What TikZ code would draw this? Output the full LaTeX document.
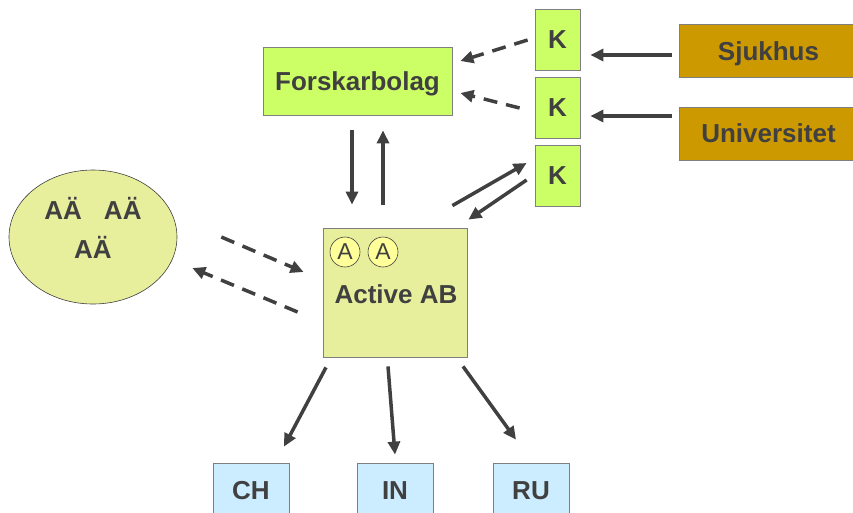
\documentclass[tikz,border=0pt]{standalone}
\usepackage{fontspec}
\setmainfont{Liberation Sans}
\usetikzlibrary{positioning, arrows.meta, calc, shapes.geometric}
\definecolor{limegreen}{HTML}{CCFF66}
\definecolor{gold}{HTML}{CC9900}
\definecolor{paleolive}{HTML}{E8EF9C}
\definecolor{paleyellow}{HTML}{FFFF99}
\definecolor{paleblue}{HTML}{CCECFF}
\definecolor{darktext}{HTML}{404040}
\definecolor{edgegray}{HTML}{7F7F7F}

\begin{document}
\begin{tikzpicture}[x=1pt, y=1pt, on grid, >={Triangle[length=13pt,width=12pt]},
    font=\fontsize{26}{30}\selectfont\bfseries, text=darktext,
    box/.style={draw=edgegray, line width=0.8pt, inner sep=0pt},
    caps/.style={text height=18.6pt, text depth=0pt},
    kbox/.style={box, fill=limegreen, minimum width=45pt, minimum height=61pt},
    src/.style={box, caps, fill=gold, minimum width=179pt, minimum height=53pt},
    land/.style={box, fill=paleblue, minimum width=76pt, minimum height=55pt},
    aring/.style={circle, draw=darktext, line width=0.6pt, fill=paleyellow, minimum size=30pt,
      inner sep=0pt, font=\fontsize{23}{23}\selectfont\mdseries},
    arr/.style={->, draw=darktext, line width=3.5pt},
    dsh/.style={arr, dash pattern=on 14pt off 9pt}]
  \clip (0,-512) rectangle (853,0);
  \useasboundingbox (0,-512) rectangle (853,0);

  \node[box, caps, fill=limegreen, minimum width=189pt, minimum height=68pt] (fb) at (357.5,-81) {Forskarbolag};
  \node[kbox] (k1) at (557.5,-39.5) {K};
  \node[kbox, below of=k1, node distance=68pt] (k2) {K};
  \node[kbox, below of=k2, node distance=68pt] (k3) {K};
  \node[src] (sj) at (768.5,-51) {Sjukhus};
  \node[src, below of=sj, node distance=82.5pt] (uni) {Universitet};

  \node[ellipse, draw=darktext, line width=0.6pt, fill=paleolive, minimum width=168pt,
    minimum height=134pt, inner sep=0pt] (aa) at (93,-237) {};
  \node[align=center] (aatext) at (93,-228) {AÄ\hspace{22pt}AÄ\\[9pt]AÄ};

  \node[box, fill=paleolive, minimum width=144pt, minimum height=129pt] (act) at (395,-292.5) {};
  \node (acttext) at (396,-294) {Active AB};
  \node[aring] (a1) at (345,-252) {A};
  \node[aring, right of=a1, node distance=38pt] (a2) {A};

  \node[land] (ch) at (251,-490.5) {CH};
  \node[land, right of=ch, node distance=144pt] (in) {IN};
  \node[land, right of=in, node distance=136pt] (ru) {RU};

  % knowledge flow to the research company
  \draw[dsh] ($(k1.west)+(-7,-0.5)$) -- ($(fb.east)+(8,20)$);
  \draw[dsh] ($(k2.west)+(-15,-0.5)$) -- ($(fb.east)+(8,-12)$);
  \draw[arr] ($(sj.west)+(-7,-4)$) -- ($(k1.east)+(10,-15.5)$);
  \draw[arr] ($(uni.west)+(-7,17.5)$) -- ($(k2.east)+(10,-8.5)$);
  \draw[arr] ($(act.north east)+(-15,22)$) -- ($(k3.west)+(-8,12.5)$);
  \draw[arr] ($(k3.west)+(-8,-4.5)$) -- ($(act.north east)+(1,8)$);
  \draw[arr] ($(fb.south)+(-5.5,-15)$) -- ($(act.north)+(-43,23)$);
  \draw[arr] ($(act.north)+(-12,23)$) -- ($(fb.south)+(25.5,-15)$);
  % exchange with the circle
  \draw[dsh] ($(aa.east)+(44,0)$) -- ($(act.west)+(-19,20.5)$);
  \draw[dsh] ($(act.west)+(-25,-19.5)$) -- ($(aa.east)+(15,-31)$);
  % out to the markets
  \draw[arr] ($(act.south)+(-69,-10)$) -- ($(ch.north)+(33,16)$);
  \draw[arr] ($(act.south)+(-7,-9)$) -- ($(in.north)+(0,8)$);
  \draw[arr] ($(act.south)+(68,-9)$) -- ($(ru.north)+(-15,23)$);
\end{tikzpicture}
\end{document}
